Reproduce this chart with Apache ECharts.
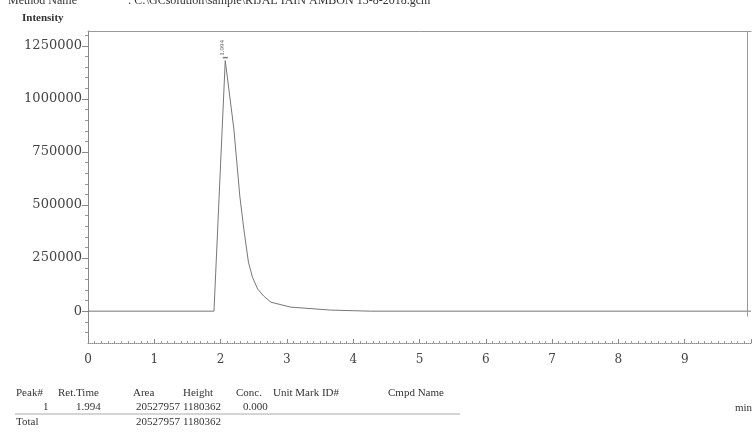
<!DOCTYPE html>
<html>
<head>
<meta charset="utf-8">
<script src="https://cdn.jsdelivr.net/npm/echarts@6/dist/echarts.min.js"></script>
<style>
  html, body { margin: 0; padding: 0; background: #fff; }
  #chart { width: 755px; height: 433px; }
</style>
</head>
<body>
<div id="chart"></div>
<script>
// chromatogram trace (min, intensity)
const times = [0, 1.90, 2.07, 2.20, 2.29, 2.35, 2.42, 2.48, 2.56, 2.65, 2.76, 3.06, 3.66, 4.26, 10];
const intensity = [0, 0, 1180362, 858000, 542000, 387000, 231000, 160000, 104000, 71000, 42000, 19000, 5000, 0, 0];

const yLabelValues = [0, 250000, 500000, 750000, 1000000, 1250000];
const yMinorValues = [-100000, -50000, 50000, 100000, 150000, 200000, 300000, 350000, 400000, 450000,
  550000, 600000, 650000, 700000, 800000, 850000, 900000, 950000, 1050000, 1100000, 1150000, 1200000, 1300000];

// peak table
const tableHeader = ['Peak#', 'Ret.Time', 'Area', 'Height', 'Conc.', 'Unit Mark ID#', 'Cmpd Name'];
const peakRow = ['1', '1.994', '20527957', '1180362', '0.000'];
const totalRow = ['Total', '', '20527957', '1180362'];

const peakIndex = 2; // apex
const serif = 'Liberation Serif';
const tickFont = 'DejaVu Serif';
const ink = '#333';

let data = times.map((t, i) => {
    if (i === peakIndex) {
        return {
            value: [t, intensity[i]],
            symbol: 'rect',
            symbolSize: [5, 1.5],
            symbolOffset: [0, -3],
            itemStyle: { color: '#777' },
            label: {
                show: true, position: 'top', rotate: 90, distance: 9,
                formatter: peakRow[1], fontSize: 7, color: '#666', fontFamily: serif
            }
        }
    }
    return [t, intensity[i]]
})

let myEcharts = echarts.init(document.getElementById('chart'))

// plain text helper for the header / table
function txt(x, y, s, font) {
    return {
        type: 'text', x: x, y: y,
        style: { text: s, font: font || '11px "' + serif + '"', fill: ink, verticalAlign: 'middle' }
    }
}

let option = {
    animation: false,
    backgroundColor: '#fff',
    grid: { left: 88, right: 4, top: 31, bottom: 90 },
    xAxis: [{
        type: 'value',
        min: 0, max: 10, interval: 1,
        position: 'bottom',
        axisLine: { show: true, onZero: false, lineStyle: { color: '#888', type: 'dotted', width: 1 } },
        axisTick: { show: true, inside: true, length: 4, lineStyle: { color: '#888' } },
        minorTick: { show: true, splitNumber: 10, length: 2, lineStyle: { color: '#999' } },
        axisLabel: {
            margin: 11, fontFamily: tickFont, fontSize: 12, color: '#444',
            formatter: (v) => (v < 10 ? String(v) : '')
        },
        splitLine: { show: false }
    }, {
        type: 'value',
        min: 0, max: 10,
        position: 'top',
        axisLine: { show: true, onZero: false, lineStyle: { color: '#999', width: 1 } },
        axisTick: { show: false },
        axisLabel: { show: false },
        splitLine: { show: false }
    }],
    yAxis: [{
        type: 'value',
        min: -150000, max: 1320000,
        axisLine: { show: true, onZero: false, lineStyle: { color: '#888', width: 1 } },
        axisTick: { show: true, length: 6, customValues: yLabelValues, lineStyle: { color: '#888' } },
        axisLabel: {
            customValues: yLabelValues, margin: 6,
            fontFamily: tickFont, fontSize: 13, color: '#444',
            formatter: (v) => String(v)
        },
        splitLine: { show: false }
    }, {
        type: 'value',
        min: -150000, max: 1320000,
        position: 'left',
        axisLine: { show: false, onZero: false },
        axisTick: { show: true, length: 3, customValues: yMinorValues, lineStyle: { color: '#999' } },
        axisLabel: { show: false },
        splitLine: { show: false }
    }],
    series: [{
        type: 'line',
        data: data,
        showSymbol: true,
        symbolSize: 0,
        lineStyle: { color: '#777', width: 1 },
        markLine: {
            silent: true,
            symbol: 'none',
            label: { show: false },
            lineStyle: { color: '#999', width: 1, type: 'solid' },
            data: [[{ coord: [9.95, 1320000] }, { coord: [9.95, -25000] }]]
        }
    }],
    graphic: [
        txt(8, 1, 'Method Name', '12px "' + serif + '"'),
        txt(128, 1, ': C:\\GCsolution\\sample\\RIJAL IAIN AMBON 13-8-2018.gcm', '12px "' + serif + '"'),
        txt(22, 18, 'Intensity', 'bold 11px "' + serif + '"'),
        txt(735, 408, 'min'),
        // table header
        txt(16, 393, tableHeader[0]),
        txt(58, 393, tableHeader[1]),
        txt(133, 393, tableHeader[2]),
        txt(183, 393, tableHeader[3]),
        txt(236, 393, tableHeader[4]),
        txt(273, 393, tableHeader[5]),
        txt(388, 393, tableHeader[6]),
        // row 1
        txt(43, 407, peakRow[0]),
        txt(76, 407, peakRow[1]),
        txt(136, 407, peakRow[2]),
        txt(183, 407, peakRow[3]),
        txt(243, 407, peakRow[4]),
        { type: 'line', shape: { x1: 15, y1: 414, x2: 460, y2: 414 }, style: { stroke: '#aaa', lineWidth: 1 } },
        // total
        txt(16, 422, totalRow[0]),
        txt(136, 422, totalRow[2]),
        txt(183, 422, totalRow[3])
    ]
}

myEcharts.setOption(option)
</script>
</body>
</html>
